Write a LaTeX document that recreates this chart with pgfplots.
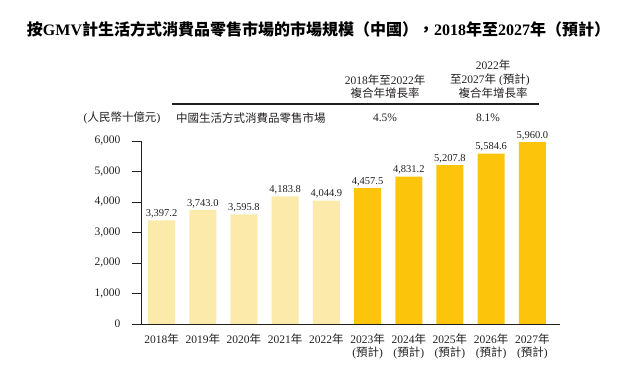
\documentclass[border=0pt]{standalone}
\usepackage{pgfplots}
\pgfplotsset{compat=1.18}
\usepackage{fontspec}
\setmainfont{Liberation Serif}
\newfontfamily\cjk{Noto Sans CJK TC}
\newcommand\C[1]{{\cjk #1}}
\definecolor{lightbar}{RGB}{252,234,170}
\definecolor{darkbar}{RGB}{252,196,10}
\definecolor{txt}{RGB}{35,31,32}
\newcommand\f{\fontsize{11.5}{13}\selectfont}
\begin{document}
\begin{tikzpicture}[x=1pt,y=1pt]
\path[use as bounding box] (0,0) rectangle (622,377);
% title
\node[text=black, font=\fontsize{16}{18}\selectfont\bfseries] at (318.5,348)
  {\C{按}GMV\C{計生活方式消費品零售市場的市場規模（中國），}2018\C{年至}2027\C{年（預計）}};
% header
\begin{scope}[every node/.style={text=txt, font=\f, inner sep=0pt}]
\node at (493,312) {2022\C{年}};
\node at (385,297) {2018\C{年至}2022\C{年}};
\node at (490,297) {\C{至}2027\C{年} (\C{預計})};
\node at (385,284) {\C{複合年增長率}};
\node at (493,284) {\C{複合年增長率}};
\node at (122,259) {(\C{人民幣十億元})};
\node[anchor=west] at (176,259) {\C{中國生活方式消費品零售市場}};
\node at (385,259) {4.5\%};
\node at (488,259) {8.1\%};
\end{scope}
\draw[txt, line width=1.2pt] (172,273) -- (539,273);
\begin{axis}[
  at={(141pt,53pt)}, anchor=south west,
  scale only axis, width=419pt, height=183pt,
  xmin=-0.5, xmax=9.67, ymin=0, ymax=6000,
  axis lines=left,
  axis line style={-, line width=0.9pt, color=txt},
  clip=false,
  ybar, bar width=27pt,
  ytick={0,1000,2000,3000,4000,5000,6000},
  yticklabels={0,{1,000},{2,000},{3,000},{4,000},{5,000},{6,000}},
  tick align=outside,
  major tick length=9pt,
  major tick style={line width=0.9pt, color=txt},
  major x tick style={draw=none},
  xtick={0,...,9},
  xticklabels={2018\C{年},2019\C{年},2020\C{年},2021\C{年},2022\C{年},
    {2023\C{年}\\(\C{預計})},{2024\C{年}\\(\C{預計})},{2025\C{年}\\(\C{預計})},
    {2026\C{年}\\(\C{預計})},{2027\C{年}\\(\C{預計})}},
  xticklabel style={align=center, font=\f, text=txt, inner sep=1pt},
  yticklabel style={font=\f, text=txt, xshift=-8pt},
  point meta=explicit symbolic,
  nodes near coords,
  nodes near coords style={font=\fontsize{10.5}{12}\selectfont, text=txt, anchor=south, inner sep=2pt},
]
\addplot[fill=lightbar, draw=none, bar shift=0pt] table[meta=label] {
x y label
0 3397.2 3,397.2
1 3743.0 3,743.0
2 3595.8 3,595.8
3 4183.8 4,183.8
4 4044.9 4,044.9
};
\addplot[fill=darkbar, draw=none, bar shift=0pt] table[meta=label] {
x y label
5 4457.5 4,457.5
6 4831.2 4,831.2
7 5207.8 5,207.8
8 5584.6 5,584.6
9 5960.0 5,960.0
};
\end{axis}
\end{tikzpicture}
\end{document}
